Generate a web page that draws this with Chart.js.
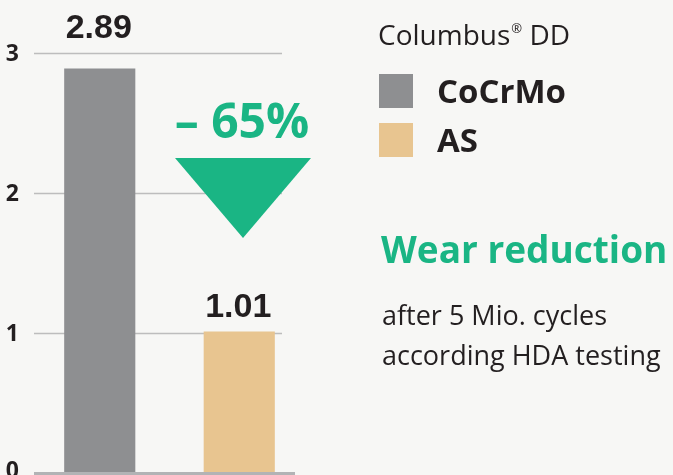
<!DOCTYPE html>
<html>
<head>
<meta charset="utf-8">
<script src="https://cdn.jsdelivr.net/npm/chart.js@4"></script>
<style>
html, body { margin: 0; padding: 0; background: #f7f7f5; }
#wrap { width: 673px; height: 475px; position: relative; }
</style>
</head>
<body>
<div id="wrap"><canvas id="chart"></canvas></div>
<script>
var categories = ['CoCrMo', 'AS'];
var wearValues = [2.89, 1.01];
var barColors = ['#8e8f91', '#e8c590'];
var yTickValues = [0, 1, 2, 3];
var legendTitle = 'Columbus';
var legendSuffix = ' DD';
var headline = 'Wear reduction';
var noteLines = ['after 5 Mio. cycles', 'according HDA testing'];

var GREEN = '#1ab584';
var TEXT = '#231f20';
var SANS = '"Open Sans", sans-serif';

var decor = {
    id: 'decor',
    beforeDatasetsDraw: function (chart) {
        var ctx = chart.ctx, y = chart.scales.y;
        ctx.save();
        ctx.strokeStyle = '#bdbdbd';
        ctx.lineWidth = 1.5;
        y.ticks.forEach(function (t) {
            var py = Math.round(y.getPixelForValue(t.value)) + 0.5;
            if (t.value !== 0) {
                ctx.beginPath();
                ctx.moveTo(34, py);
                ctx.lineTo(282, py);
                ctx.stroke();
            }
        });
        // tick labels
        ctx.fillStyle = TEXT;
        ctx.font = 'bold 23px ' + SANS;
        ctx.textAlign = 'right';
        ctx.textBaseline = 'middle';
        y.ticks.forEach(function (t) {
            var py = y.getPixelForValue(t.value);
            ctx.fillText(String(t.value), 19, t.value === 0 ? py - 2 : py + 1);
        });
        ctx.restore();
    },
    afterDatasetsDraw: function (chart) {
        var ctx = chart.ctx, y = chart.scales.y;
        var meta = chart.getDatasetMeta(0);
        ctx.save();

        // baseline bar
        var y0 = y.getPixelForValue(0);
        ctx.fillStyle = '#b2b3b5';
        ctx.fillRect(34, y0 - 1, 261, 6);

        // value labels
        var gaps = [30, 15];
        ctx.fillStyle = TEXT;
        ctx.font = 'bold 34px "Liberation Sans", Arial, sans-serif';
        ctx.textAlign = 'center';
        ctx.textBaseline = 'alphabetic';
        meta.data.forEach(function (bar, i) {
            ctx.fillText(wearValues[i].toFixed(2), bar.x - 1, bar.y - gaps[i]);
        });

        // reduction arrow
        var pct = Math.round((1 - wearValues[1] / wearValues[0]) * 100);
        ctx.fillStyle = GREEN;
        ctx.font = 'bold 48px ' + SANS;
        ctx.fillText('\u2013 ' + pct + '%', 242, 138);
        ctx.beginPath();
        ctx.moveTo(175, 158);
        ctx.lineTo(311, 158);
        ctx.lineTo(243, 238);
        ctx.closePath();
        ctx.fill();

        // legend
        ctx.textAlign = 'left';
        ctx.fillStyle = TEXT;
        ctx.font = '28px ' + SANS;
        ctx.fillText(legendTitle, 378, 45);
        var w = ctx.measureText(legendTitle).width;
        ctx.font = '13px ' + SANS;
        ctx.fillText('\u00ae', 378 + w + 1, 33);
        var w2 = ctx.measureText('\u00ae').width;
        ctx.font = '28px ' + SANS;
        ctx.fillText(legendSuffix, 378 + w + w2 + 1, 45);

        var rows = [74, 123];
        categories.forEach(function (c, i) {
            ctx.fillStyle = barColors[i];
            ctx.fillRect(379, rows[i], 34, 34);
            ctx.fillStyle = TEXT;
            ctx.font = 'bold 33px ' + SANS;
            ctx.fillText(c, 437, rows[i] + 29);
        });

        // headline and notes
        ctx.fillStyle = GREEN;
        ctx.font = 'bold 37px ' + SANS;
        ctx.fillText(headline, 381, 263);
        ctx.fillStyle = TEXT;
        ctx.font = '27px ' + SANS;
        ctx.fillText(noteLines[0], 382, 325);
        ctx.fillText(noteLines[1], 382, 365);
        ctx.restore();
    }
};

var ctx = document.getElementById('chart').getContext('2d');
var myChart = new Chart(ctx, {
    type: 'bar',
    data: {
        labels: categories,
        datasets: [{
            data: wearValues,
            backgroundColor: barColors,
            barPercentage: 1,
            categoryPercentage: 0.51
        }]
    },
    options: {
        responsive: true,
        maintainAspectRatio: false,
        animation: false,
        layout: { padding: { top: 53, bottom: 2, left: 0, right: 364 } },
        plugins: {
            legend: { display: false },
            tooltip: { enabled: false }
        },
        scales: {
            x: { display: false },
            y: {
                min: 0,
                max: 3,
                afterFit: function (s) {
                    s.width = 30;
                    s.paddingTop = 0;
                    s.paddingBottom = 0;
                },
                afterBuildTicks: function (s) {
                    s.ticks = yTickValues.map(function (v) { return { value: v }; });
                },
                grid: { display: false, drawTicks: false },
                border: { display: false },
                ticks: { display: false }
            }
        }
    },
    plugins: [decor]
});
</script>
</body>
</html>
